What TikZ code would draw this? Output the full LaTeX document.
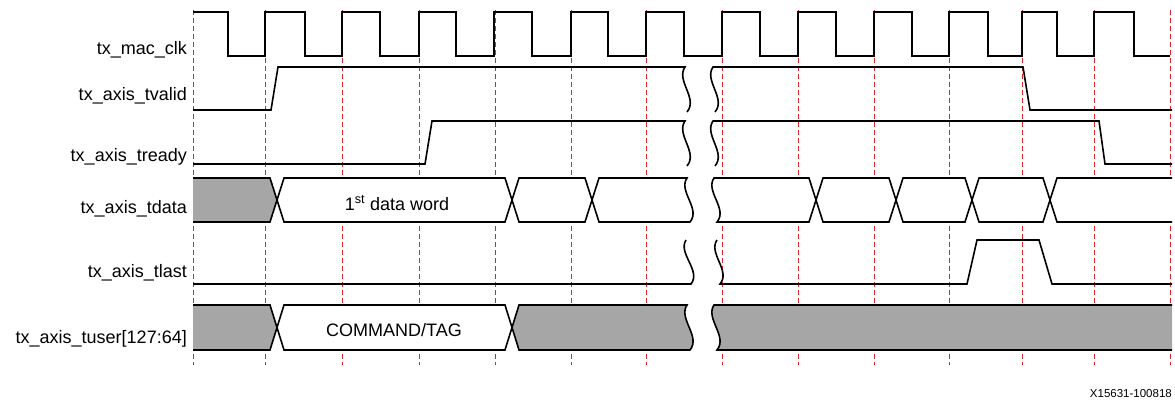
\documentclass[tikz,border=0pt]{standalone}
\usepackage{fontspec}
\setmainfont{Liberation Sans}
\usetikzlibrary{calc}
\definecolor{busgray}{RGB}{166,166,166}
\definecolor{edgered}{RGB}{212,40,44}
\tikzset{
  sig/.style={line width=1.6pt},
  bus/.style={sig, fill=white},
  busx/.style={sig, fill=busgray},
  clkedge/.style={edgered, line width=0.9pt, dash pattern=on 5pt off 3pt},
  lbl/.style={font=\fontsize{18}{20}\selectfont, inner sep=0pt},
  wv/.style={to path={.. controls ($(\tikztostart)!0.3!(\tikztotarget)+(-10,0)$) and ($(\tikztostart)!0.7!(\tikztotarget)+(12,0)$) .. (\tikztotarget)}},
  wvu/.style={to path={.. controls ($(\tikztostart)!0.3!(\tikztotarget)+(12,0)$) and ($(\tikztostart)!0.7!(\tikztotarget)+(-10,0)$) .. (\tikztotarget)}}
}
\begin{document}
\begin{tikzpicture}[x=1pt,y=-1pt]
    \useasboundingbox (0,0) rectangle (1175,400);
    % clock edges
    \foreach \x in {193,265,342,419,495,571,646,722,798,874,949,1022,1094,1170}
        \draw[clkedge] (\x,10) -- (\x,365);
    % tx_mac_clk
    \draw[sig] (193,12) -- (228,12) -- (228,56)
        \foreach \r/\f in {265/305,342/380,419/456,494/532,571/608,646/684,722/760,798/836,874/912,949/988,1022/1057,1094/1134}
        { -- (\r,56) -- (\r,12) -- (\f,12) -- (\f,56) } -- (1170,56);
    % tx_axis_tvalid
    \draw[sig] (193,110) -- (271,110) -- (278,67) -- (685,67) to[wv] (687,112);
    \draw[sig] (715,112) to[wvu] (713,67) -- (1023,67) -- (1030,110) -- (1172,110);
    % tx_axis_tready
    \draw[sig] (193,164) -- (425,164) -- (432,121) -- (685,121) to[wv] (687,166);
    \draw[sig] (715,166) to[wvu] (713,121) -- (1099,121) -- (1105,164) -- (1172,164);
    % tx_axis_tdata
    \filldraw[busx] (193,178) -- (270,178) -- (277,200) -- (270,222) -- (193,222);
    \foreach \s/\e in {277/512,512/592,816/896,896/972,972/1050}
        \filldraw[bus] (\s,200) -- (\s+7,178) -- (\e-7,178) -- (\e,200) -- (\e-7,222) -- (\s+7,222) -- cycle;
    \filldraw[bus] (592,200) -- (599,178) -- (687,178) to[wv] (690,222) -- (599,222) -- cycle;
    \filldraw[bus] (714,178) to[wv] (717,222) -- (809,222) -- (816,200) -- (809,178) -- cycle;
    \filldraw[bus] (1172,178) -- (1057,178) -- (1050,200) -- (1057,222) -- (1172,222);
    % tx_axis_tlast
    \draw[sig] (193,284) -- (691,284) to[wvu] (686,240);
    \draw[sig] (717,240) to[wv] (720,284) -- (967,284) -- (977,240) -- (1039,240) -- (1052,284) -- (1172,284);
    % tx_axis_tuser
    \filldraw[busx] (193,305) -- (270,305) -- (277,327.5) -- (270,350) -- (193,350);
    \filldraw[bus] (277,327.5) -- (284,305) -- (505,305) -- (512,327.5) -- (505,350) -- (284,350) -- cycle;
    \filldraw[busx] (512,327.5) -- (519,305) -- (687,305) to[wv] (690,350) -- (519,350) -- cycle;
    \filldraw[busx] (1172,305) -- (714,305) to[wv] (717,350) -- (1172,350);
    % labels
    \node[lbl, anchor=base east] (lclk) at (187,54) {tx\_mac\_clk};
    \node[lbl, anchor=base east] (lvalid) at (187,100) {tx\_axis\_tvalid};
    \node[lbl, anchor=base east] (lready) at (187,161) {tx\_axis\_tready};
    \node[lbl, anchor=base east] (ldata) at (187,213) {tx\_axis\_tdata};
    \node[lbl, anchor=base east] (llast) at (187,277) {tx\_axis\_tlast};
    \node[lbl, anchor=base east] (luser) at (187,343) {tx\_axis\_tuser[127:64]};
    \node[lbl, anchor=base] (wdata) at (397,210) {1\textsuperscript{st} data word};
    \node[lbl, anchor=base] (wcmd) at (394,336) {COMMAND/TAG};
    \node[font=\fontsize{11.5}{13}\selectfont, inner sep=0pt, anchor=base east] (figid) at (1172,397) {X15631-100818};
\end{tikzpicture}
\end{document}
